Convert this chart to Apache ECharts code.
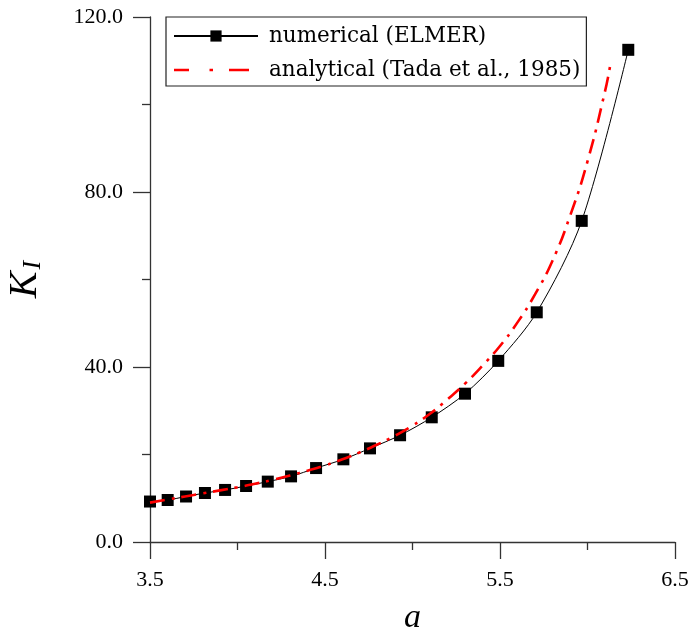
<!DOCTYPE html>
<html>
<head>
<meta charset="utf-8">
<script src="https://cdn.jsdelivr.net/npm/echarts@6/dist/echarts.min.js"></script>
<style>html,body{margin:0;padding:0;background:#fff}#c{width:693px;height:630px}</style>
</head>
<body>
<div id="c"></div>
<script>
const numA = [3.5, 3.601, 3.706, 3.814, 3.929, 4.049, 4.173, 4.306, 4.449, 4.605, 4.757, 4.929, 5.110, 5.300, 5.490, 5.710, 5.967, 6.233];
const numK = [9.25, 9.6, 10.4, 11.2, 11.9, 12.8, 13.8, 15.0, 16.9, 18.9, 21.4, 24.4, 28.5, 33.9, 41.4, 52.5, 73.4, 112.5];
const anaA = [3.5, 3.6, 3.7, 3.8, 3.9, 4.0, 4.1, 4.2, 4.3, 4.4, 4.5, 4.6, 4.7, 4.8, 4.9, 5.0, 5.1, 5.2, 5.3, 5.4, 5.5, 5.6, 5.7, 5.8, 5.9, 6.0, 6.1, 6.13];
const anaK = [9.0, 9.7, 10.4, 11.1, 11.8, 12.5, 13.3, 14.2, 15.2, 16.3, 17.5, 18.9, 20.5, 22.3, 24.3, 26.6, 29.3, 32.6, 36.2, 40.3, 44.8, 50.2, 56.6, 64.3, 74.5, 87.0, 103.0, 109.0];
const xTicks = [3.5, 4.5, 5.5, 6.5];
const yTicks = [0, 40, 80, 120];
const seriesNames = ['numerical (ELMER)', 'analytical (Tada et al., 1985)'];

const FONT = 'Liberation Serif';
const LFONT = 'DejaVu Serif';
// dash-dot legend glyph (84 x 14 box)
const dashIcon = 'path://M0,0h0.05v0.05h-0.05z M83.95,13.95h0.05v0.05h-0.05z ' +
  'M0,5.7h15v2.6h-15z M35.5,5.7h3.5v2.6h-3.5z M55,5.7h20v2.6h-20z';

const chart = echarts.init(document.getElementById('c'));
chart.setOption({
  animation: false,
  backgroundColor: '#fff',
  grid: { left: 150, right: 18, top: 17, bottom: 88, outerBoundsMode: 'none', containLabel: false },
  legend: {
    left: 166, top: 17,
    orient: 'vertical',
    borderColor: '#222', borderWidth: 1.2,
    padding: [8, 6, 5, 7],
    itemGap: 12,
    itemWidth: 84, itemHeight: 14,
    textStyle: { fontFamily: LFONT, fontSize: 21.5, color: '#000', padding: [0, 0, 0, 6] },
    data: [
      { name: seriesNames[0] },
      { name: seriesNames[1], icon: dashIcon, itemStyle: { color: '#ff0000', borderWidth: 0 } }
    ]
  },
  xAxis: {
    type: 'value', min: xTicks[0], max: xTicks[xTicks.length - 1], interval: 1,
    name: 'a', nameLocation: 'middle', nameGap: 59,
    nameTextStyle: { fontFamily: FONT, fontSize: 34, fontStyle: 'italic', color: '#000' },
    axisLine: { onZero: false, lineStyle: { color: '#333', width: 1.3 } },
    axisTick: { length: 17, lineStyle: { color: '#333', width: 1.3 } },
    minorTick: { show: true, splitNumber: 2, length: 8, lineStyle: { color: '#333', width: 1.3 } },
    splitLine: { show: false },
    axisLabel: { fontFamily: FONT, fontSize: 22, color: '#000', margin: 27, formatter: v => v.toFixed(1) }
  },
  yAxis: {
    type: 'value', min: yTicks[0], max: yTicks[yTicks.length - 1], interval: 40,
    name: '{k|K}{s|I}', nameLocation: 'middle', nameGap: 104, nameRotate: 90,
    nameTextStyle: {
      rich: {
        k: { fontFamily: FONT, fontSize: 40, fontStyle: 'italic', color: '#000' },
        s: { fontFamily: FONT, fontSize: 26, fontStyle: 'italic', color: '#000', padding: [16, 0, 0, 2] }
      }
    },
    axisLine: { onZero: false, lineStyle: { color: '#333', width: 1.3 } },
    axisTick: { length: 17, lineStyle: { color: '#333', width: 1.3 } },
    minorTick: { show: true, splitNumber: 2, length: 8, lineStyle: { color: '#333', width: 1.3 } },
    splitLine: { show: false },
    axisLabel: { fontFamily: FONT, fontSize: 22, color: '#000', margin: 27, formatter: v => v.toFixed(1) }
  },
  series: [
    {
      name: seriesNames[0], type: 'line', smooth: 0.3,
      data: numA.map((a, i) => [a, numK[i]]),
      symbol: 'rect', symbolSize: 12,
      itemStyle: { color: '#000' },
      lineStyle: { color: '#000', width: 1 },
      z: 3
    },
    {
      name: seriesNames[1], type: 'line', smooth: true,
      data: anaA.map((a, i) => [a, anaK[i]]),
      showSymbol: false, symbol: 'none',
      itemStyle: { color: '#ff0000' },
      lineStyle: { color: '#ff0000', width: 2.6, type: [15, 7, 3, 7] },
      z: 4
    }
  ]
});
</script>
</body>
</html>
